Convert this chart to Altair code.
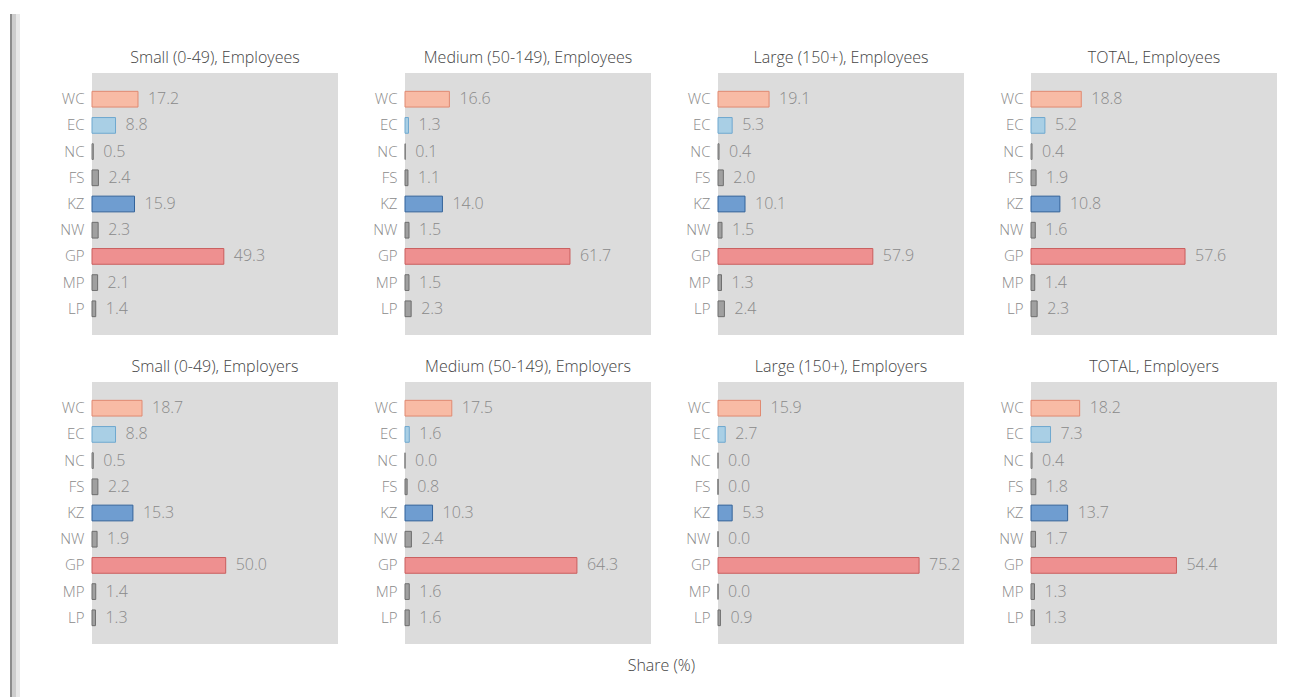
import altair as alt
import pandas as pd

regions = ["WC", "EC", "NC", "FS", "KZ", "NW", "GP", "MP", "LP"]
panels = [
    "Small (0-49), Employees", "Medium (50-149), Employees",
    "Large (150+), Employees", "TOTAL, Employees",
    "Small (0-49), Employers", "Medium (50-149), Employers",
    "Large (150+), Employers", "TOTAL, Employers",
]
small_employees = [17.2, 8.8, 0.5, 2.4, 15.9, 2.3, 49.3, 2.1, 1.4]
medium_employees = [16.6, 1.3, 0.1, 1.1, 14.0, 1.5, 61.7, 1.5, 2.3]
large_employees = [19.1, 5.3, 0.4, 2.0, 10.1, 1.5, 57.9, 1.3, 2.4]
total_employees = [18.8, 5.2, 0.4, 1.9, 10.8, 1.6, 57.6, 1.4, 2.3]
small_employers = [18.7, 8.8, 0.5, 2.2, 15.3, 1.9, 50.0, 1.4, 1.3]
medium_employers = [17.5, 1.6, 0.0, 0.8, 10.3, 2.4, 64.3, 1.6, 1.6]
large_employers = [15.9, 2.7, 0.0, 0.0, 5.3, 0.0, 75.2, 0.0, 0.9]
total_employers = [18.2, 7.3, 0.4, 1.8, 13.7, 1.7, 54.4, 1.3, 1.3]

series = [small_employees, medium_employees, large_employees, total_employees,
          small_employers, medium_employers, large_employers, total_employers]

fills = ["#f8bba5", "#a9cfe5", "#a8a8a8", "#a0a0a0", "#6f9dd0", "#a0a0a0", "#ee9090", "#a0a0a0", "#a0a0a0"]
strokes = ["#e08a72", "#6fa8cf", "#7a7a7a", "#6e6e6e", "#33639a", "#6e6e6e", "#c95e5e", "#6e6e6e", "#6e6e6e"]

rows = []
for p, vals in zip(panels, series):
    for r, v in zip(regions, vals):
        rows.append({"panel": p, "region": r, "share": v})
df = pd.DataFrame(rows)

FONT = "Open Sans"

y_enc = alt.Y("region:N", sort=regions, title=None,
              scale=alt.Scale(paddingInner=0.4, paddingOuter=0.7),
              axis=alt.Axis(domain=False, ticks=False, labelPadding=8,
                            labelFontSize=15, labelFontWeight=300,
                            labelColor="#8a8a8a", labelFont=FONT))
x_enc = alt.X("share:Q", scale=alt.Scale(domain=[0, 92]), axis=None, title=None)

bars = alt.Chart().mark_bar(strokeWidth=1).encode(
    x=x_enc,
    y=y_enc,
    fill=alt.Fill("region:N", scale=alt.Scale(domain=regions, range=fills), legend=None),
    stroke=alt.Stroke("region:N", scale=alt.Scale(domain=regions, range=strokes), legend=None),
)
labels = alt.Chart().mark_text(align="left", baseline="middle", dx=10,
                               fontSize=16, fontWeight=300,
                               color="#8a8a8a", font=FONT).encode(
    x=x_enc,
    y=y_enc,
    text=alt.Text("share:Q", format=".1f"),
)

panel_chart = alt.layer(bars, labels, data=df).properties(
    width=246, height=262,
    view=alt.ViewBackground(fill="#dcdcdc", stroke=None),
)

facet_chart = panel_chart.facet(
    facet=alt.Facet("panel:N", sort=panels,
                    header=alt.Header(title=" ", titleFontSize=14, titlePadding=28,
                                      labelFontSize=16, labelFontWeight=300,
                                      labelColor="#444444",
                                      labelFont=FONT, labelPadding=7)),
    columns=4,
    spacing={"row": 24, "column": 34},
).resolve_axis(y="independent").properties(
    title=alt.TitleParams("Share (%)", orient="bottom", anchor="middle",
                          fontSize=16, font=FONT, color="#444444",
                          fontWeight=300, offset=14, dx=-7)
)

strip_df = pd.DataFrame({"k": [0]})
dark = alt.Chart(strip_df).mark_rect(color="#8c8c8c").encode(
    x=alt.value(2), x2=alt.value(4), y=alt.value(-59), y2=alt.value(640))
mid = alt.Chart(strip_df).mark_rect(color="#cdcdcd").encode(
    x=alt.value(4), x2=alt.value(8), y=alt.value(-59), y2=alt.value(640))
light = alt.Chart(strip_df).mark_rect(color="#e8e8e8").encode(
    x=alt.value(8), x2=alt.value(12), y=alt.value(-59), y2=alt.value(640))
strip = alt.layer(dark, mid, light).properties(
    width=20, height=600,
    view=alt.ViewBackground(fill="white", stroke=None),
)

chart = alt.hconcat(strip, facet_chart, spacing=31).properties(
    padding={"left": 0, "top": 0, "right": 5, "bottom": 5},
    background="white",
).configure_view(stroke=None)

chart.save("out.html", embed_options={"renderer": "svg", "actions": False})
